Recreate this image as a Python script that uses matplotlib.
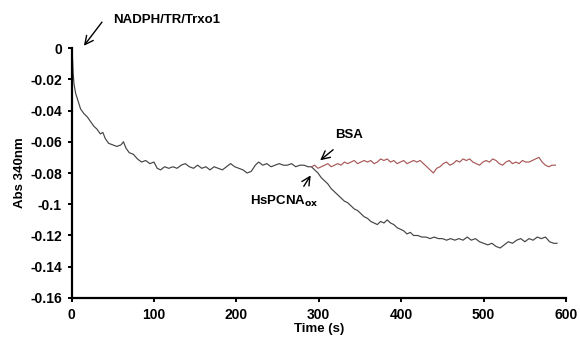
import matplotlib
matplotlib.use("Agg")
import matplotlib.pyplot as plt

# black trace: NADPH/TR/Trxo1 then HsPCNAox added at ~290 s
t_black = [0, 1, 2, 3, 5, 8, 11, 15, 19, 23, 27, 31, 35, 38, 41, 45, 50, 55, 60, 63,
           66, 70, 75, 80, 85, 90, 95, 100, 104, 108, 113, 118, 123, 128, 133, 138,
           143, 148, 153, 158, 163, 168, 173, 178, 183, 188, 193, 198, 203, 208, 213,
           218, 223, 227, 232, 237, 242, 247, 252, 257, 262, 267, 272, 277, 282, 287,
           291, 295, 299, 303, 307, 311, 315, 319, 323, 327, 331, 335, 339, 343, 347,
           351, 355, 359, 363, 367, 371, 375, 379, 383, 387, 391, 395, 399, 403, 407,
           411, 415, 420, 425, 430, 435, 440, 445, 450, 455, 460, 465, 470, 475, 480,
           485, 490, 495, 500, 505, 510, 515, 520, 525, 530, 535, 540, 545, 550, 555,
           560, 565, 570, 575, 580, 585, 589]
abs_black = [0.000, -0.004, -0.016, -0.023, -0.029, -0.034, -0.039, -0.042, -0.044,
             -0.047, -0.050, -0.052, -0.055, -0.054, -0.058, -0.061, -0.062, -0.063,
             -0.062, -0.060, -0.064, -0.067, -0.068, -0.071, -0.073, -0.072, -0.074,
             -0.073, -0.077, -0.078, -0.076, -0.077, -0.076, -0.077, -0.075, -0.074,
             -0.076, -0.077, -0.075, -0.077, -0.076, -0.078, -0.076, -0.077, -0.078,
             -0.076, -0.074, -0.076, -0.077, -0.078, -0.080, -0.079, -0.075, -0.073,
             -0.075, -0.074, -0.076, -0.075, -0.074, -0.075, -0.075, -0.074, -0.076,
             -0.075, -0.075, -0.076, -0.076, -0.078, -0.080, -0.083, -0.085, -0.087,
             -0.090, -0.092, -0.094, -0.096, -0.098, -0.099, -0.101, -0.103, -0.104,
             -0.106, -0.108, -0.109, -0.111, -0.112, -0.113, -0.111, -0.112, -0.110,
             -0.112, -0.113, -0.115, -0.116, -0.117, -0.119, -0.118, -0.120, -0.120,
             -0.121, -0.121, -0.122, -0.121, -0.122, -0.122, -0.123, -0.122, -0.123,
             -0.122, -0.123, -0.121, -0.123, -0.122, -0.124, -0.125, -0.126, -0.125,
             -0.127, -0.128, -0.126, -0.124, -0.125, -0.123, -0.122, -0.124, -0.122,
             -0.123, -0.121, -0.122, -0.121, -0.124, -0.125, -0.125]

# red trace: BSA added instead
t_red = [291, 295, 299, 303, 307, 311, 315, 319, 323, 327, 331, 335, 339, 343, 347,
         351, 355, 359, 363, 367, 371, 375, 379, 383, 387, 391, 395, 399, 403, 407,
         411, 415, 419, 423, 427, 431, 435, 439, 443, 447, 451, 455, 459, 463, 467,
         471, 475, 479, 483, 487, 491, 495, 499, 503, 507, 511, 515, 519, 523, 527,
         531, 535, 539, 543, 547, 551, 555, 559, 563, 567, 571, 575, 579, 583, 587]
abs_red = [-0.076, -0.075, -0.077, -0.076, -0.075, -0.074, -0.076, -0.075, -0.074,
           -0.075, -0.073, -0.074, -0.073, -0.072, -0.074, -0.073, -0.072, -0.073,
           -0.072, -0.074, -0.073, -0.071, -0.072, -0.071, -0.073, -0.072, -0.074,
           -0.073, -0.072, -0.074, -0.073, -0.072, -0.073, -0.072, -0.074, -0.076,
           -0.078, -0.080, -0.077, -0.076, -0.074, -0.073, -0.075, -0.074, -0.072,
           -0.073, -0.071, -0.072, -0.071, -0.073, -0.074, -0.075, -0.073, -0.072,
           -0.073, -0.071, -0.072, -0.074, -0.075, -0.073, -0.072, -0.074, -0.073,
           -0.074, -0.072, -0.073, -0.073, -0.072, -0.071, -0.070, -0.073, -0.075,
           -0.076, -0.075, -0.075]

x_ticks = [0, 100, 200, 300, 400, 500, 600]
y_ticks = [0, -0.02, -0.04, -0.06, -0.08, -0.1, -0.12, -0.14, -0.16]
y_labels = ["0", "-0.02", "-0.04", "-0.06", "-0.08", "-0.1", "-0.12", "-0.14", "-0.16"]

plt.rcParams['font.family'] = ['Liberation Sans', 'DejaVu Sans']
plt.rcParams['font.weight'] = 'bold'

fig = plt.figure(figsize=(5.8, 3.42), dpi=100)
ax = fig.add_axes([0.1233, 0.1287, 0.8527, 0.7309])

ax.plot(t_black, abs_black, color='#444444', lw=0.85)
ax.plot(t_red, abs_red, color='#a85858', lw=0.85)

ax.set_xlim(0, 600)
ax.set_ylim(-0.16, 0)
ax.set_xticks(x_ticks)
ax.set_xticklabels([str(v) for v in x_ticks])
ax.set_yticks(y_ticks)
ax.set_yticklabels(y_labels)
ax.spines['top'].set_visible(False)
ax.spines['right'].set_visible(False)
for s in ['left', 'bottom']:
    ax.spines[s].set_linewidth(1.6)
ax.tick_params(direction='out', length=3, width=1.4, labelsize=10, pad=4)
for lab in ax.get_xticklabels() + ax.get_yticklabels():
    lab.set_fontweight('bold')

ax.set_xlabel('Time (s)', fontsize=9.5, fontweight='bold', labelpad=1)
ax.set_ylabel('Abs 340nm', fontsize=9.5, fontweight='bold', labelpad=3)

arrow = dict(arrowstyle='->', color='black', lw=1.0, mutation_scale=15)
ax.annotate('', xy=(13, 0.0), xytext=(39, 0.018), arrowprops=arrow, annotation_clip=False)
ax.text(50, 0.018, 'NADPH/TR/Trxo1', fontsize=9.5, fontweight='bold', va='center', clip_on=False)
ax.annotate('', xy=(299, -0.073), xytext=(320, -0.064), arrowprops=arrow)
ax.text(320, -0.0555, 'BSA', fontsize=9.5, fontweight='bold', va='center')
ax.annotate('', xy=(292, -0.080), xytext=(280, -0.090), arrowprops=arrow)
ax.text(217, -0.098, r'HsPCNA$_{\mathbf{ox}}$', fontsize=9.5, fontweight='bold', va='center')

fig.savefig('out.png', dpi=100)
